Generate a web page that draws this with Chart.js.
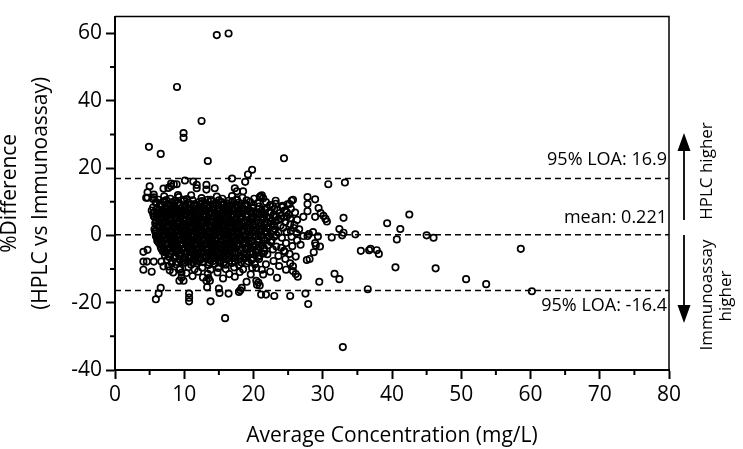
<!DOCTYPE html>
<html>
<head>
<meta charset="utf-8">
<script src="https://cdn.jsdelivr.net/npm/chart.js@4.4.0/dist/chart.umd.min.js"></script>
<style>
  html, body { margin: 0; padding: 0; background: #fff; }
  #wrap { width: 743px; height: 449px; }
</style>
</head>
<body>
<div id="wrap"><canvas id="chart"></canvas></div>
<script>
// limits of agreement (from the figure)
const meanDiff = 0.221
const loaUpper = 16.9
const loaLower = -16.4

const xTicks = [0, 10, 20, 30, 40, 50, 60, 70, 80]
const yTicks = [-40, -20, 0, 20, 40, 60]

// [average concentration, % difference]
const highOutliers = [[14.7,59.5],[16.4,60.0],[8.95,44.1],[12.5,34.0],[9.9,30.4],[9.9,29.0],[4.9,26.3],[6.6,24.2],
  [13.4,22.1],[24.4,22.9],[19.8,19.5],[19.2,18.1],[18.8,15.9],[16.9,16.9],[10.1,16.3],[11.3,16.0],[5.0,14.6],[8.1,15.4],[8.5,15.2]]

const tail = [[30.8,15.2],[33.2,15.7],[27.8,11.4],[28.9,10.7],[25.7,10.6],[27.8,9.3],[29.4,8.1],[27.8,7.2],[29.7,6.6],
  [30.1,5.8],[30.4,4.9],[30.6,4.1],[33.0,5.2],[28.9,5.5],[27.2,5.5],[39.3,3.6],[42.5,6.2],[41.2,1.9],[40.7,-1.2],
  [34.7,0.3],[45.0,0.0],[46.0,-0.7],[32.4,1.9],[33.0,0.8],[32.8,0.0],[31.3,-0.6],[28.0,0.4],[28.6,1.0],[29.3,-0.3],
  [28.9,-2.3],[29.6,-3.3],[28.7,-5.0],[35.5,-4.6],[36.7,-4.4],[36.9,-4.0],[37.8,-4.4],[38.1,-5.5],[27.7,-7.3],
  [28.1,-7.0],[25.7,-10.6],[26.1,-11.5],[26.4,-12.3],[31.7,-11.4],[32.4,-13.0],[29.5,-13.8],[40.5,-9.5],[46.3,-9.8],
  [36.5,-16.0],[27.5,-17.3],[27.9,-20.4],[25.3,-18.0],[23.0,-18.0],[21.8,-17.6],[21.1,-17.6],[20.7,-14.0],[20.5,-14.7],
  [58.6,-4.0],[50.7,-13.0],[53.6,-14.5],[60.2,-16.6],[32.9,-33.2]]

const coreTop = [[5.6,11.3],[6.3,10.6],[7.1,11.6],[8.0,10.9],[9.2,11.4],[10.4,10.8],[11.0,11.9],[12.5,11.1],[13.4,10.6],
  [14.7,11.5],[15.5,10.9],[16.9,11.7],[17.6,10.7],[18.4,11.2],[20.1,10.9],[21.0,11.6],[21.4,11.0],
  [5.9,9.6],[7.0,10.1],[7.6,9.4],[8.3,9.9],[9.0,9.5],[9.9,10.2],[10.6,9.7],[11.5,9.3],[12.2,10.0],[13.0,9.6],[13.9,10.1],
  [14.6,9.4],[15.4,9.9],[16.2,9.5],[17.0,10.2],[17.9,9.7],[18.8,9.3],[19.5,10.0],[20.6,9.6],[21.8,9.9],[23.2,9.4],
  [5.5,8.3],[6.6,8.8],[7.3,8.2],[8.0,8.6],[8.7,8.1],[9.4,8.9],[10.1,8.4],[10.8,8.0],[11.4,8.7],[12.1,8.3],[12.8,8.8],
  [13.5,8.2],[14.2,8.6],[14.9,8.1],[15.6,8.9],[16.3,8.4],[17.0,8.0],[17.7,8.7],[18.4,8.3],[19.1,8.8],[19.9,8.2],
  [20.8,8.6],[21.9,8.1],[22.8,8.7],[24.2,8.4],
  [5.7,7.0],[6.4,7.5],[7.1,6.9],[7.8,7.3],[8.5,7.6],[9.1,6.8],[9.8,7.2],[10.5,7.7],[11.2,7.0],[11.8,7.4],[12.5,6.9],
  [13.2,7.5],[13.8,7.1],[14.5,6.8],[15.2,7.4],[15.9,7.7],[16.6,7.0],[17.3,7.3],[18.0,6.9],[18.7,7.6],[19.5,7.1],
  [20.3,6.8],[21.2,7.4],[22.3,7.0],[23.5,7.5],[24.8,6.9],
  [5.6,5.7],[6.3,6.2],[7.0,5.6],[7.7,6.0],[8.3,6.3],[9.0,5.5],[9.6,5.9],[10.3,6.4],[11.0,5.8],[11.6,5.4],[12.3,6.1],
  [12.9,5.7],[13.6,6.3],[14.3,5.6],[15.0,6.0],[15.7,5.5],[16.4,6.2],[17.0,5.8],[17.7,6.4],[18.4,5.6],[19.2,6.0],
  [20.0,5.7],[20.9,6.3],[21.9,5.5],[22.9,6.1],[24.0,5.8],[25.1,6.2]]

const coreMid = [[5.9,4.4],[6.6,4.9],[7.3,4.3],[8.0,4.7],[8.7,5.0],[9.3,4.2],[10.0,4.6],[10.7,4.9],[11.3,4.3],[12.0,4.8],
  [12.6,4.4],[13.3,4.1],[14.0,4.7],[14.7,5.0],[15.3,4.4],[16.0,4.8],[16.7,4.2],[17.4,4.6],[18.1,5.0],[18.8,4.3],
  [19.6,4.7],[20.5,4.4],[21.4,4.9],[22.5,4.2],[23.6,4.6],[24.6,4.0],
  [6.0,3.1],[6.8,3.6],[7.5,3.0],[8.2,3.4],[8.9,3.7],[9.6,3.0],[10.2,3.3],[10.9,3.8],[11.6,3.2],[12.2,2.9],[12.9,3.5],
  [13.6,3.1],[14.2,3.7],[14.9,3.2],[15.6,2.9],[16.3,3.4],[17.0,3.8],[17.6,3.1],[18.3,3.5],[19.1,3.0],[19.9,3.4],
  [20.7,3.7],[21.6,3.1],[22.6,3.5],[23.9,2.9],[25.3,3.3],
  [5.7,1.8],[6.4,2.3],[7.1,1.7],[7.8,2.1],[8.5,2.4],[9.2,1.6],[9.9,2.0],[10.5,2.4],[11.2,1.8],[11.9,2.2],[12.5,1.6],
  [13.2,2.1],[13.9,2.5],[14.6,1.8],[15.2,2.2],[15.9,1.7],[16.6,2.3],[17.3,1.9],[18.0,2.4],[18.7,1.6],[19.5,2.0],
  [20.3,2.4],[21.2,1.7],[22.0,2.1],[23.1,1.8],[24.3,2.3],
  [5.9,0.5],[6.6,1.0],[7.3,0.4],[8.0,0.8],[8.7,1.1],[9.4,0.3],[10.1,0.7],[10.8,1.0],[11.4,0.4],[12.1,0.8],[12.8,0.2],
  [13.5,0.9],[14.2,0.5],[14.8,1.1],[15.5,0.6],[16.2,0.3],[16.9,0.9],[17.6,0.5],[18.3,1.0],[19.0,0.4],[19.8,0.8],
  [20.7,0.3],[21.6,0.9],[22.5,0.5],[23.6,0.8],
  [6.1,-0.8],[6.8,-0.3],[7.5,-0.9],[8.2,-0.5],[8.9,-0.2],[9.6,-1.0],[10.3,-0.6],[11.0,-0.3],[11.7,-0.9],[12.3,-0.5],
  [13.0,-1.0],[13.7,-0.4],[14.4,-0.8],[15.1,-0.2],[15.8,-0.7],[16.5,-1.0],[17.1,-0.4],[17.8,-0.8],[18.6,-0.3],
  [19.4,-0.9],[20.2,-0.5],[21.1,-0.2],[22.0,-0.8],[23.0,-0.4],[24.1,-0.7]]

const coreLow = [[6.3,-2.1],[7.0,-1.6],[7.7,-2.2],[8.4,-1.8],[9.1,-1.5],[9.8,-2.3],[10.5,-1.9],[11.2,-1.6],[11.9,-2.2],
  [12.6,-1.7],[13.3,-2.3],[14.0,-1.9],[14.6,-1.5],[15.3,-2.1],[16.0,-1.7],[16.7,-2.3],[17.4,-1.8],[18.1,-1.5],
  [18.9,-2.2],[19.7,-1.8],[20.6,-2.1],[21.5,-1.6],[22.5,-2.0],
  [6.6,-3.4],[7.3,-2.9],[8.0,-3.5],[8.7,-3.1],[9.4,-2.8],[10.1,-3.6],[10.8,-3.2],[11.5,-2.9],[12.2,-3.5],[12.8,-3.0],
  [13.5,-3.6],[14.2,-3.2],[14.9,-2.8],[15.6,-3.4],[16.3,-3.0],[17.0,-3.6],[17.7,-3.1],[18.5,-2.8],[19.3,-3.5],
  [20.1,-3.1],[21.0,-3.4],[22.1,-2.9],[23.3,-3.3],
  [6.9,-4.7],[7.6,-4.2],[8.3,-4.8],[9.0,-4.4],[9.7,-4.1],[10.4,-4.9],[11.1,-4.5],[11.8,-4.2],[12.5,-4.8],[13.2,-4.3],
  [13.9,-4.9],[14.6,-4.5],[15.3,-4.1],[16.0,-4.7],[16.7,-4.3],[17.4,-4.9],[18.2,-4.4],[19.0,-4.1],[19.8,-4.8],
  [20.7,-4.4],[21.6,-4.7],[22.8,-4.2],[24.4,-4.6],
  [7.2,-6.0],[8.0,-5.5],[8.8,-6.1],[9.6,-5.7],[10.3,-5.4],[11.0,-6.2],[11.7,-5.8],[12.4,-5.5],[13.1,-6.1],[13.8,-5.6],
  [14.5,-6.2],[15.2,-5.8],[15.9,-5.4],[16.6,-6.0],[17.4,-5.6],[18.2,-6.2],[19.0,-5.7],[19.9,-5.4],[20.9,-6.0],[22.0,-5.6],
  [7.5,-7.3],[8.5,-6.8],[9.4,-7.4],[10.2,-7.0],[10.9,-6.7],[11.6,-7.5],[12.4,-7.1],[13.1,-6.8],[13.8,-7.4],[14.6,-6.9],
  [15.3,-7.5],[16.1,-7.1],[16.9,-6.7],[17.8,-7.3],[18.7,-6.9],[19.7,-7.4],[20.8,-7.0],
  [8.8,-8.6],[10.0,-8.1],[11.0,-8.7],[11.8,-8.3],[12.7,-8.0],[13.5,-8.8],[14.4,-8.4],[15.2,-8.1],[16.0,-8.7],
  [16.9,-8.2],[17.9,-8.8],[19.0,-8.3],[20.2,-8.6],
  [9.4,-9.9],[10.6,-9.5],[11.5,-10.1],[12.6,-9.6],[13.8,-10.2],[14.9,-9.7],[16.0,-10.0],[17.2,-9.5],[18.5,-10.1],[19.8,-9.7],
  [10.3,-11.2],[12.0,-10.8],[13.4,-11.4],[14.8,-11.0],[16.5,-11.5],[18.0,-10.9]]

// extra points packed in between, where the cloud is solid black
const coreFillUpper = [[7.4,10.5],[8.7,10.3],[10.0,10.6],[11.2,10.4],[12.6,10.2],[13.8,10.6],[15.0,10.4],[16.4,10.3],
  [17.5,10.5],[19.0,10.4],
  [6.8,9.0],[7.9,9.2],[8.6,8.9],[9.4,9.3],[10.2,9.0],[10.9,9.2],[11.8,8.9],[12.5,9.3],[13.3,9.0],[14.1,9.2],[14.9,8.9],
  [15.8,9.3],[16.6,9.0],[17.4,9.1],[18.2,8.9],[19.0,9.2],[20.0,9.0],
  [6.1,7.9],[6.8,7.7],[7.5,8.0],[8.2,7.8],[8.9,7.6],[9.5,8.0],[10.2,7.8],[10.9,7.6],[11.5,8.0],[12.2,7.8],[12.9,7.6],
  [13.5,8.0],[14.2,7.8],[14.9,7.6],[15.6,8.0],[16.3,7.8],[17.0,7.6],[17.7,8.0],[18.4,7.8],[19.1,7.6],[19.9,8.0],
  [20.8,7.8],[21.7,7.6],
  [6.1,6.6],[6.8,6.4],[7.5,6.7],[8.1,6.5],[8.8,6.3],[9.5,6.7],[10.1,6.5],[10.8,6.3],[11.5,6.7],[12.1,6.5],[12.8,6.3],
  [13.5,6.7],[14.1,6.5],[14.8,6.3],[15.5,6.7],[16.2,6.5],[16.9,6.3],[17.5,6.7],[18.2,6.5],[18.9,6.3],[19.7,6.7],
  [20.6,6.5],[21.5,6.3],[22.5,6.7],
  [6.0,5.3],[6.7,5.1],[7.4,5.4],[8.1,5.2],[8.8,5.5],[9.4,5.1],[10.1,5.3],[10.8,5.5],[11.4,5.1],[12.1,5.3],[12.8,5.5],
  [13.4,5.1],[14.1,5.3],[14.8,5.5],[15.4,5.1],[16.1,5.3],[16.8,5.5],[17.5,5.1],[18.2,5.3],[18.9,5.5],[19.7,5.1],
  [20.5,5.3],[21.4,5.5],[22.4,5.1],
  [6.4,4.0],[7.1,3.8],[7.8,4.1],[8.5,3.9],[9.2,3.7],[9.9,4.1],[10.6,3.9],[11.2,3.7],[11.9,4.1],[12.6,3.9],[13.2,3.7],
  [13.9,4.1],[14.6,3.9],[15.2,3.7],[15.9,4.1],[16.6,3.9],[17.2,3.7],[17.9,4.1],[18.6,3.9],[19.4,3.7],[20.2,4.1],
  [21.0,3.9],[22.0,3.7],[23.1,4.1],
  [6.2,2.7],[6.9,2.5],[7.6,2.8],[8.3,2.6],[9.0,2.4],[9.7,2.8],[10.4,2.6],[11.0,2.4],[11.7,2.8],[12.4,2.6],[13.0,2.4],
  [13.7,2.8],[14.4,2.6],[15.0,2.4],[15.7,2.8],[16.4,2.6],[17.0,2.4],[17.7,2.8],[18.4,2.6],[19.2,2.4],[20.0,2.8],
  [20.9,2.6],[21.9,2.4],[23.0,2.8]]

const coreFillLower = [[6.0,1.4],[6.7,1.2],[7.4,1.5],[8.1,1.3],[8.8,1.1],[9.5,1.5],[10.2,1.3],[10.9,1.1],[11.6,1.5],
  [12.2,1.3],[12.9,1.1],[13.6,1.5],[14.3,1.3],[15.0,1.1],[15.6,1.5],[16.3,1.3],[17.0,1.1],[17.7,1.5],[18.4,1.3],
  [19.2,1.1],[20.0,1.5],[20.9,1.3],[21.9,1.1],[22.9,1.4],
  [6.3,0.1],[7.0,-0.1],[7.7,0.2],[8.4,0.0],[9.1,-0.2],[9.8,0.2],[10.5,0.0],[11.1,-0.2],[11.8,0.2],[12.5,0.0],[13.1,-0.2],
  [13.8,0.2],[14.5,0.0],[15.2,-0.2],[15.9,0.2],[16.5,0.0],[17.2,-0.2],[17.9,0.2],[18.6,0.0],[19.4,-0.2],[20.3,0.2],
  [21.2,0.0],[22.2,-0.2],[23.3,0.1],
  [6.5,-1.2],[7.2,-1.4],[7.9,-1.1],[8.6,-1.3],[9.3,-1.5],[10.0,-1.1],[10.7,-1.3],[11.3,-1.5],[12.0,-1.1],[12.7,-1.3],
  [13.4,-1.5],[14.0,-1.1],[14.7,-1.3],[15.4,-1.5],[16.1,-1.1],[16.8,-1.3],[17.5,-1.5],[18.2,-1.1],[19.0,-1.3],
  [19.8,-1.5],[20.7,-1.1],[21.6,-1.3],[22.6,-1.5],
  [6.8,-2.5],[7.5,-2.7],[8.2,-2.4],[8.9,-2.6],[9.6,-2.8],[10.3,-2.4],[11.0,-2.6],[11.6,-2.8],[12.3,-2.4],[13.0,-2.6],
  [13.7,-2.8],[14.3,-2.4],[15.0,-2.6],[15.7,-2.8],[16.4,-2.4],[17.1,-2.6],[17.8,-2.8],[18.6,-2.4],[19.4,-2.6],
  [20.3,-2.8],[21.3,-2.5],
  [7.0,-3.8],[7.7,-4.0],[8.4,-3.7],[9.1,-3.9],[9.8,-4.1],[10.5,-3.7],[11.2,-3.9],[11.8,-4.1],[12.5,-3.7],[13.2,-3.9],
  [13.9,-4.1],[14.5,-3.7],[15.2,-3.9],[15.9,-4.1],[16.6,-3.7],[17.3,-3.9],[18.0,-4.1],[18.8,-3.7],[19.6,-3.9],
  [20.5,-4.1],[21.5,-3.8],
  [7.3,-5.1],[8.0,-5.3],[8.7,-5.0],[9.4,-5.2],[10.1,-5.4],[10.8,-5.0],[11.5,-5.2],[12.1,-5.4],[12.8,-5.0],[13.5,-5.2],
  [14.2,-5.4],[14.9,-5.0],[15.6,-5.2],[16.3,-5.4],[17.0,-5.0],[17.8,-5.2],[18.6,-5.4],[19.5,-5.0],[20.4,-5.2],[21.4,-5.4],
  [7.8,-6.4],[8.6,-6.6],[9.3,-6.3],[10.0,-6.5],[10.7,-6.7],[11.4,-6.3],[12.1,-6.5],[12.8,-6.7],[13.5,-6.3],[14.2,-6.5],
  [14.9,-6.7],[15.6,-6.3],[16.4,-6.5],[17.2,-6.7],[18.0,-6.3],[18.9,-6.5],[19.8,-6.7],[20.7,-6.4],
  [8.2,-7.7],[9.0,-7.9],[9.8,-7.6],[10.6,-7.8],[11.3,-8.0],[12.0,-7.6],[12.8,-7.8],[13.5,-8.0],[14.2,-7.6],[15.0,-7.8],
  [15.7,-8.0],[16.5,-7.6],[17.3,-7.8],[18.2,-8.0],[19.2,-7.7]]

const edgeUpper = [[11.8,14.0],[11.8,15.0],[13.2,15.0],[13.2,13.6],[14.4,14.0],[17.3,14.0],[17.6,13.1],[18.5,13.1],
  [4.7,12.8],[4.7,11.2],[5.6,12.1],[7.0,13.9],[7.7,14.1],[8.1,14.6],[8.9,15.2],[9.1,12.0],[20.9,11.4],[21.2,11.9],
  [23.2,10.3],[24.2,8.8],[24.9,9.2],[25.5,10.3],[25.2,9.3],[23.3,5.5],[24.0,5.0],[24.8,5.5],[25.3,5.0],[25.9,3.1],
  [25.4,1.2],[26.2,0.7],[27.2,-0.2],[27.8,-0.2],[29.0,-3.0],[22.4,9.0],[23.0,7.8],[23.8,6.6],[24.5,7.4],[25.4,7.9],
  [26.0,6.8],[26.3,4.6],[25.8,2.2],[26.6,1.8],[24.8,1.0],[25.5,-0.4],[26.3,-1.5],[24.7,-2.3],[25.6,-3.2],[26.8,-2.8]]

const edgeLeft = [[5.8,1.2],[5.9,-0.2],[6.1,-1.6],[6.5,-2.6],[6.7,-4.0],[7.2,-4.9],[5.8,3.6],[5.7,5.5],[5.5,6.5],
  [5.3,7.4],[4.5,11.2],[5.5,10.8],[6.0,9.8],[6.5,9.3],[4.1,-4.9],[4.7,-4.3],[4.1,-7.8],[4.6,-7.8],[4.1,-10.2],
  [5.3,-10.8],[5.6,-7.8],[6.7,-7.8],[7.0,-9.2],[7.7,-9.2],[8.2,-8.3]]

const edgeLower = [[24.0,-3.7],[25.2,-5.5],[26.1,-6.3],[23.6,-6.1],[24.6,-7.0],[22.9,-7.6],[21.8,-8.6],[23.7,-9.1],
  [24.7,-10.2],[22.4,-10.8],[21.2,-10.2],[19.6,-11.6],[17.3,-12.3],[15.6,-12.8],[11.2,-12.1],[8.4,-11.0],[7.9,-10.4],
  [23.4,-12.6],[19.0,-13.8],[24.5,-4.9],[25.3,-8.3],[25.7,-9.2],[20.4,-9.7],[21.4,-11.6],[20.4,-13.5],[20.9,-14.9],
  [18.3,-15.6],[18.1,-16.3],[17.9,-16.8],[16.4,-17.3],[15.9,-24.6],[15.0,-15.8],[15.1,-17.1],[13.8,-19.6],[13.3,-15.4],
  [13.5,-12.7],[12.7,-12.5],[13.2,-13.5],[13.7,-13.5],[10.7,-17.3],[10.7,-18.5],[10.7,-19.6],[9.3,-13.5],[9.6,-12.5],
  [9.6,-11.1],[9.3,-10.2],[9.9,-13.5],[6.6,-15.6],[6.3,-17.3],[5.9,-19.0]]

const allPoints = [].concat(highOutliers, tail, coreTop, coreMid, coreLow, coreFillUpper, coreFillLower,
  edgeUpper, edgeLeft, edgeLower).map(p => ({x: p[0], y: p[1]}))

const FONT = '"Open Sans", "DejaVu Sans", sans-serif'

function hline(v) {
  return {
    type: 'line',
    data: [{x: 0, y: v}, {x: 80, y: v}],
    borderColor: '#000',
    borderWidth: 1.5,
    borderDash: [6, 4],
    pointRadius: 0,
    fill: false
  }
}

// minor ticks, top/right frame, limit labels and the arrows on the right
const extras = {
  id: 'extras',
  afterDraw(chart) {
    const {ctx, chartArea: a, scales: {x, y}} = chart
    ctx.save()
    ctx.strokeStyle = '#000'
    ctx.lineWidth = 2
    ctx.beginPath()
    for (let v = 5; v < 80; v += 10) {
      const px = x.getPixelForValue(v)
      ctx.moveTo(px, a.bottom)
      ctx.lineTo(px, a.bottom + 5)
    }
    for (let v = -30; v < 60; v += 20) {
      const py = y.getPixelForValue(v)
      ctx.moveTo(a.left, py)
      ctx.lineTo(a.left - 5, py)
    }
    ctx.stroke()

    ctx.lineWidth = 1.5
    ctx.beginPath()
    ctx.moveTo(a.left, a.top)
    ctx.lineTo(a.right, a.top)
    ctx.lineTo(a.right, a.bottom)
    ctx.stroke()

    ctx.fillStyle = '#000'
    ctx.font = '18px ' + FONT
    ctx.textAlign = 'right'
    ctx.textBaseline = 'alphabetic'
    ctx.fillText('95% LOA: ' + loaUpper, a.right - 2, y.getPixelForValue(loaUpper) - 13)
    ctx.fillText('mean: ' + meanDiff, a.right - 2, y.getPixelForValue(meanDiff) - 12)
    ctx.fillText('95% LOA: ' + loaLower, a.right - 2, y.getPixelForValue(loaLower) + 20)

    // arrows
    const ax = a.right + 15
    ctx.lineWidth = 1.8
    ctx.beginPath()
    ctx.moveTo(ax, 150); ctx.lineTo(ax, 220)
    ctx.moveTo(ax, 235); ctx.lineTo(ax, 307)
    ctx.stroke()
    ctx.beginPath()
    ctx.moveTo(ax, 133); ctx.lineTo(ax - 6.5, 151); ctx.lineTo(ax + 6.5, 151); ctx.closePath()
    ctx.moveTo(ax, 323); ctx.lineTo(ax - 6.5, 305); ctx.lineTo(ax + 6.5, 305); ctx.closePath()
    ctx.fill()

    ctx.font = '17px ' + FONT
    ctx.textAlign = 'center'
    ctx.textBaseline = 'middle'
    const side = [['HPLC higher', 707, 171], ['Immunoassay', 707, 295], ['higher', 726, 296]]
    side.forEach(s => {
      ctx.save()
      ctx.translate(s[1], s[2])
      ctx.rotate(-Math.PI / 2)
      ctx.fillText(s[0], 0, 0)
      ctx.restore()
    })
    ctx.restore()
  }
}

new Chart(document.getElementById('chart'), {
  type: 'scatter',
  data: {
    datasets: [
      {
        label: 'diff',
        data: allPoints,
        pointStyle: 'circle',
        pointRadius: 3.2,
        pointBorderWidth: 1.7,
        borderColor: '#000',
        backgroundColor: 'rgba(0,0,0,0)',
        pointBackgroundColor: 'rgba(0,0,0,0)'
      },
      hline(loaUpper),
      hline(meanDiff),
      hline(loaLower)
    ]
  },
  options: {
    responsive: true,
    maintainAspectRatio: false,
    animation: false,
    devicePixelRatio: 1,
    layout: {padding: {top: 1, right: 74, bottom: 0, left: 0}},
    plugins: {legend: {display: false}, tooltip: {enabled: false}},
    scales: {
      x: {
        type: 'linear',
        position: 'bottom',
        min: 0,
        max: 80,
        afterBuildTicks: s => { s.ticks = xTicks.map(v => ({value: v})) },
        afterFit: s => { s.height = 79 },
        ticks: {color: '#000', font: {family: FONT, size: 21}, padding: 3, maxRotation: 0},
        grid: {drawOnChartArea: false, tickLength: 9, tickWidth: 2, tickColor: '#000'},
        border: {display: true, color: '#000', width: 2},
        title: {display: true, text: 'Average Concentration (mg/L)', color: '#000',
          font: {family: FONT, size: 21, lineHeight: 1.2}, padding: {top: 0, bottom: 0}}
      },
      y: {
        type: 'linear',
        min: -40,
        max: 65,
        afterBuildTicks: s => { s.ticks = yTicks.map(v => ({value: v})) },
        afterFit: s => { s.width = 115 },
        ticks: {color: '#000', font: {family: FONT, size: 21}, padding: 4},
        grid: {drawOnChartArea: false, tickLength: 9, tickWidth: 2, tickColor: '#000'},
        border: {display: true, color: '#000', width: 2},
        title: {display: true, text: ['%Difference', '(HPLC vs Immunoassay)'], color: '#000',
          font: {family: FONT, size: 21, lineHeight: 1.5}, padding: {top: -6, bottom: 0}}
      }
    }
  },
  plugins: [extras]
})
</script>
</body>
</html>
